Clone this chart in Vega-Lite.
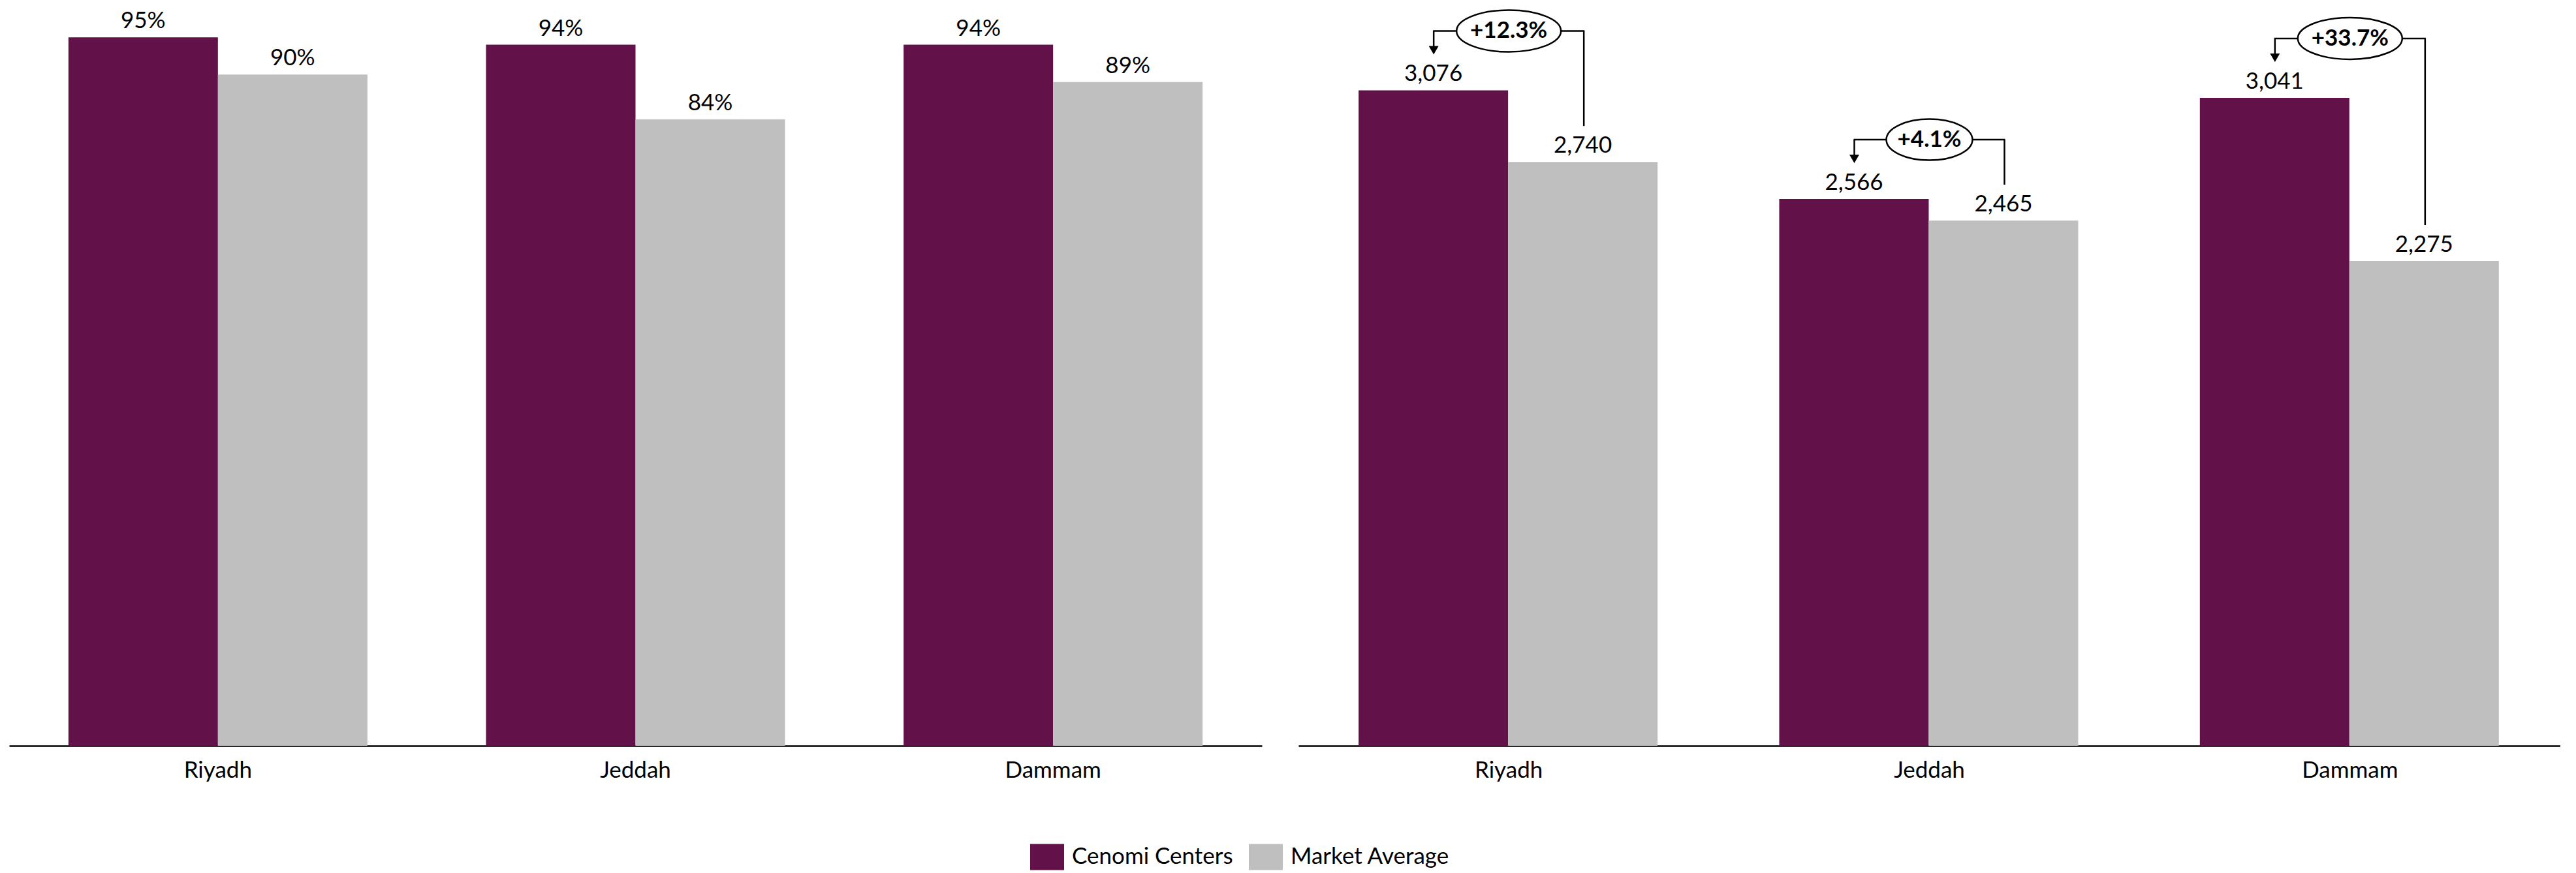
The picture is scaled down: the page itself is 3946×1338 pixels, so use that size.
{
  "$schema": "https://vega.github.io/schema/vega-lite/v6.json",
  "background": "white",
  "autosize": {"type": "pad"},
  "padding": {"left": 14, "top": 0, "right": 0, "bottom": 0},
  "spacing": 56,
  "config": {
    "view": {"stroke": null},
    "font": "Lato",
    "axis": {
      "title": null,
      "ticks": false,
      "grid": false,
      "domainColor": "black",
      "domainWidth": 2.5,
      "labelFont": "Lato",
      "labelFontSize": 35,
      "labelColor": "black",
      "labelAngle": 0,
      "labelPadding": 20
    }
  },
  "datasets": {
    "occupancy": [
      {"city": "Riyadh", "series": "Cenomi Centers", "value": 0.95},
      {"city": "Riyadh", "series": "Market Average", "value": 0.90},
      {"city": "Jeddah", "series": "Cenomi Centers", "value": 0.94},
      {"city": "Jeddah", "series": "Market Average", "value": 0.84},
      {"city": "Dammam", "series": "Cenomi Centers", "value": 0.94},
      {"city": "Dammam", "series": "Market Average", "value": 0.89}
    ],
    "rent": [
      {"city": "Riyadh", "series": "Cenomi Centers", "value": 3076},
      {"city": "Riyadh", "series": "Market Average", "value": 2740},
      {"city": "Jeddah", "series": "Cenomi Centers", "value": 2566},
      {"city": "Jeddah", "series": "Market Average", "value": 2465},
      {"city": "Dammam", "series": "Cenomi Centers", "value": 3041},
      {"city": "Dammam", "series": "Market Average", "value": 2275}
    ],
    "uplift": [
      {"city": "Riyadh", "change": "+12.3%"},
      {"city": "Jeddah", "change": "+4.1%"},
      {"city": "Dammam", "change": "+33.7%"}
    ]
  },
  "hconcat": [
    {
      "width": 1919,
      "height": 1143,
      "data": {"name": "occupancy"},
      "encoding": {
        "x": {
          "field": "city",
          "type": "nominal",
          "sort": ["Riyadh", "Jeddah", "Dammam"],
          "scale": {"paddingInner": 0.284, "paddingOuter": 0.142}
        },
        "y": {
          "field": "value",
          "type": "quantitative",
          "scale": {"domain": [0, 1], "nice": false},
          "axis": null
        },
        "xOffset": {"field": "series", "sort": ["Cenomi Centers", "Market Average"]}
      },
      "layer": [
        {
          "mark": {"type": "bar"},
          "encoding": {
            "color": {
              "field": "series",
              "type": "nominal",
              "scale": {"domain": ["Cenomi Centers", "Market Average"], "range": ["#621149", "#BFBFBF"]},
              "legend": {
                "title": null,
                "orient": "none",
                "legendX": 1564,
                "legendY": 1287,
                "direction": "horizontal",
                "symbolType": "M-1,-0.77H1V0.77H-1Z",
                "symbolSize": 2704,
                "symbolStrokeWidth": 0,
                "symbolOpacity": 1,
                "labelFont": "Lato",
                "labelFontSize": 35,
                "labelColor": "black",
                "labelLimit": 600,
                "labelOffset": 12,
                "columnPadding": 24
              }
            }
          }
        },
        {
          "mark": {"type": "text", "baseline": "alphabetic", "dy": -14, "fontSize": 35, "color": "black"},
          "encoding": {"text": {"field": "value", "format": ".0%"}}
        }
      ]
    },
    {
      "width": 1933,
      "height": 1143,
      "encoding": {
        "x": {
          "field": "city",
          "type": "nominal",
          "sort": ["Riyadh", "Jeddah", "Dammam"],
          "scale": {"paddingInner": 0.286, "paddingOuter": 0.143}
        }
      },
      "layer": [
        {
          "data": {"name": "rent"},
          "encoding": {
            "y": {
              "field": "value",
              "type": "quantitative",
              "scale": {"domain": [0, 3500], "nice": false},
              "axis": null
            },
            "xOffset": {"field": "series", "sort": ["Cenomi Centers", "Market Average"]}
          },
          "layer": [
            {
              "mark": {"type": "bar"},
              "encoding": {
                "color": {
                  "field": "series",
                  "type": "nominal",
                  "scale": {"domain": ["Cenomi Centers", "Market Average"], "range": ["#621149", "#BFBFBF"]}
                }
              }
            },
            {
              "mark": {"type": "text", "baseline": "alphabetic", "dy": -14, "fontSize": 35, "color": "black"},
              "encoding": {"text": {"field": "value", "format": ","}}
            }
          ]
        },
        {
          "data": {"name": "rent"},
          "transform": [
            {"pivot": "series", "value": "value", "groupby": ["city"]},
            {"lookup": "city", "from": {"data": {"name": "uplift"}, "key": "city", "fields": ["change"]}}
          ],
          "layer": [
            {
              "mark": {"type": "rule", "color": "black", "strokeWidth": 2.5, "xOffset": -115, "yOffset": -66, "y2Offset": -91},
              "encoding": {
                "y": {"field": "Cenomi Centers", "type": "quantitative", "scale": {"domain": [0, 3500], "nice": false}, "axis": null},
                "y2": {"field": "Cenomi Centers"}
              }
            },
            {
              "mark": {"type": "point", "shape": "triangle-down", "filled": true, "color": "black", "opacity": 1, "size": 225, "xOffset": -115, "yOffset": -61.5},
              "encoding": {
                "y": {"field": "Cenomi Centers", "type": "quantitative", "scale": {"domain": [0, 3500], "nice": false}, "axis": null}
              }
            },
            {
              "mark": {"type": "rule", "color": "black", "strokeWidth": 2.5, "xOffset": 115, "yOffset": -55, "y2Offset": -91},
              "encoding": {
                "y": {"field": "Market Average", "type": "quantitative", "scale": {"domain": [0, 3500], "nice": false}, "axis": null},
                "y2": {"field": "Cenomi Centers"}
              }
            },
            {
              "mark": {"type": "rule", "color": "black", "strokeWidth": 2.5, "xOffset": -116, "x2Offset": 116, "yOffset": -91},
              "encoding": {
                "x2": {"field": "city"},
                "y": {"field": "Cenomi Centers", "type": "quantitative", "scale": {"domain": [0, 3500], "nice": false}, "axis": null}
              }
            },
            {
              "mark": {"type": "point", "filled": true, "fill": "white", "stroke": "black", "strokeWidth": 2.5, "opacity": 1, "strokeOpacity": 1, "fillOpacity": 1, "yOffset": -91},
              "encoding": {
                "y": {"field": "Cenomi Centers", "type": "quantitative", "scale": {"domain": [0, 3500], "nice": false}, "axis": null},
                "shape": {
                  "condition": {"test": "datum.city === 'Jeddah'", "value": "M-1,0A1,0.477,0,1,0,1,0A1,0.477,0,1,0,-1,0Z"},
                  "value": "M-1,0A1,0.4,0,1,0,1,0A1,0.4,0,1,0,-1,0Z"
                },
                "size": {
                  "condition": {"test": "datum.city === 'Jeddah'", "value": 17424},
                  "value": 25600
                }
              }
            },
            {
              "mark": {"type": "text", "fontWeight": "bold", "fontSize": 35, "baseline": "middle", "color": "black", "yOffset": -91},
              "encoding": {
                "y": {"field": "Cenomi Centers", "type": "quantitative", "scale": {"domain": [0, 3500], "nice": false}, "axis": null},
                "text": {"field": "change"}
              }
            }
          ]
        }
      ]
    }
  ]
}
